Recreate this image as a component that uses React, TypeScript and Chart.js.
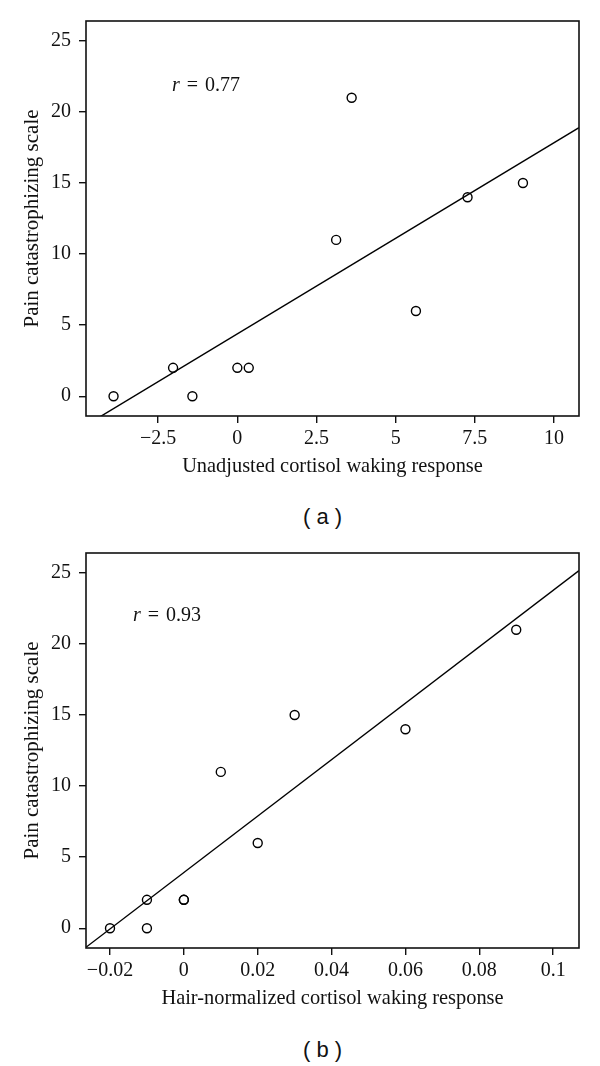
import React, { useEffect, useRef } from "react";
import { Chart, registerables } from "chart.js";
Chart.register(...registerables);

// ---------- shared data ----------
const Y_TICKS = [0, 5, 10, 15, 20, 25];
const Y_MIN = -1.39;
const Y_MAX = 26.4;
const Y_TITLE = "Pain catastrophizing scale";

// ---------- panel (a) ----------
const A_X = [-3.91, -2.03, -1.42, 0, 0.36, 3.12, 3.61, 5.64, 7.27, 9.02];
const A_Y = [0, 2, 0, 2, 2, 11, 21, 6, 14, 15];
const A_X_TICKS = [-2.5, 0, 2.5, 5, 7.5, 10];
const A_X_TICK_LABELS = ["\u22122.5", "0", "2.5", "5", "7.5", "10"];
const A_X_MIN = -4.78;
const A_X_MAX = 10.79;
const A_INTERCEPT = 4.39;
const A_SLOPE = 1.345;
const A_R = "0.77";
const A_X_TITLE = "Unadjusted cortisol waking response";
const A_LABEL = "( a )";

// ---------- panel (b) ----------
const B_X = [-0.02, -0.01, -0.01, 0, 0, 0.01, 0.02, 0.03, 0.06, 0.09];
const B_Y = [0, 2, 0, 2, 2, 11, 6, 15, 14, 21];
const B_X_TICKS = [-0.02, 0, 0.02, 0.04, 0.06, 0.08, 0.1];
const B_X_TICK_LABELS = ["\u22120.02", "0", "0.02", "0.04", "0.06", "0.08", "0.1"];
const B_X_MIN = -0.0265;
const B_X_MAX = 0.107;
const B_INTERCEPT = 3.92;
const B_SLOPE = 198.5;
const B_R = "0.93";
const B_X_TITLE = "Hair-normalized cortisol waking response";
const B_LABEL = "( b )";

const SERIF = "'Liberation Serif', 'Times New Roman', serif";
const SANS = "'Liberation Sans', Arial, sans-serif";

const framePlugin = {
  id: "frame",
  afterDraw(chart: any) {
    const { ctx, chartArea } = chart;
    ctx.save();
    ctx.strokeStyle = "#111";
    ctx.lineWidth = 1.6;
    ctx.strokeRect(
      chartArea.left,
      chartArea.top,
      chartArea.right - chartArea.left,
      chartArea.bottom - chartArea.top
    );
    ctx.restore();
  },
};

type PanelProps = {
  top: number;
  xs: number[];
  ys: number[];
  xTicks: number[];
  xTickLabels: string[];
  xMin: number;
  xMax: number;
  intercept: number;
  slope: number;
  xTitle: string;
};

const CANVAS_W = 600;
const CANVAS_H = 490;

function Panel(p: PanelProps) {
  const ref = useRef<HTMLCanvasElement>(null);
  useEffect(() => {
    const tickFont = { family: SERIF, size: 20 };
    const points = p.xs.map((x, i) => ({ x, y: p.ys[i] }));
    const fit = [p.xMin, p.xMax].map((x) => ({ x, y: p.intercept + p.slope * x }));
    const chart = new Chart(ref.current as HTMLCanvasElement, {
      type: "scatter",
      data: {
        datasets: [
          {
            data: points,
            pointRadius: 4.5,
            pointBorderWidth: 1.4,
            pointBorderColor: "#000",
            pointBackgroundColor: "rgba(0,0,0,0)",
            showLine: false,
          } as any,
          {
            data: fit,
            showLine: true,
            borderColor: "#000",
            borderWidth: 1.4,
            pointRadius: 0,
            clip: 0,
          } as any,
        ],
      },
      options: {
        responsive: false,
        animation: false,
        events: [],
        layout: { padding: { top: 21, right: 21, left: 0, bottom: 0 } },
        plugins: { legend: { display: false }, tooltip: { enabled: false } },
        scales: {
          x: {
            type: "linear",
            min: p.xMin,
            max: p.xMax,
            afterFit: (s: any) => {
              s.height = CANVAS_H - 416;
            },
            afterBuildTicks: (s: any) => {
              s.ticks = p.xTicks.map((v) => ({ value: v }));
            },
            ticks: {
              autoSkip: false,
              maxRotation: 0,
              color: "#111",
              font: tickFont,
              padding: 4,
              callback: (_v: any, i: number) => p.xTickLabels[i],
            },
            grid: {
              drawOnChartArea: false,
              drawTicks: true,
              tickLength: 7,
              color: "#111",
              lineWidth: 1.4,
            },
            border: { display: false },
            title: {
              display: true,
              text: p.xTitle,
              color: "#111",
              font: { family: SERIF, size: 20.4 },
              padding: { top: 0, bottom: 11 },
            },
          },
          y: {
            type: "linear",
            min: Y_MIN,
            max: Y_MAX,
            afterFit: (s: any) => {
              s.width = 86;
            },
            afterBuildTicks: (s: any) => {
              s.ticks = Y_TICKS.map((v) => ({ value: v }));
            },
            ticks: {
              autoSkip: false,
              color: "#111",
              font: tickFont,
              padding: 8,
              callback: (v: any) => String(v),
            },
            grid: {
              drawOnChartArea: false,
              drawTicks: true,
              tickLength: 7,
              color: "#111",
              lineWidth: 1.4,
            },
            border: { display: false },
            title: {
              display: true,
              text: Y_TITLE,
              color: "#111",
              font: { family: SERIF, size: 21 },
              padding: { top: 20, bottom: 0 },
            },
          },
        },
      } as any,
      plugins: [framePlugin],
    });
    return () => chart.destroy();
  }, []);
  return (
    <canvas
      ref={ref}
      width={CANVAS_W}
      height={CANVAS_H}
      style={{ position: "absolute", left: 0, top: p.top, width: CANVAS_W, height: CANVAS_H }}
    />
  );
}

function RText({ left, top, value }: { left: number; top: number; value: string }) {
  return (
    <div
      style={{
        position: "absolute",
        left,
        top,
        fontFamily: SERIF,
        fontSize: 20,
        lineHeight: "20px",
        color: "#111",
        wordSpacing: 2,
        whiteSpace: "pre",
      }}
    >
      <i>r</i> = {value}
    </div>
  );
}

function PanelLabel({ top, text }: { top: number; text: string }) {
  return (
    <div
      style={{
        position: "absolute",
        left: 303,
        top,
        fontFamily: SANS,
        fontSize: 22,
        lineHeight: "22px",
        color: "#111",
        whiteSpace: "pre",
      }}
    >
      {text}
    </div>
  );
}

export default function App() {
  return (
    <div
      style={{
        position: "absolute",
        left: 0,
        top: 0,
        width: 600,
        height: 1066,
        background: "#fff",
        overflow: "hidden",
      }}
    >
      <Panel
        top={0}
        xs={A_X}
        ys={A_Y}
        xTicks={A_X_TICKS}
        xTickLabels={A_X_TICK_LABELS}
        xMin={A_X_MIN}
        xMax={A_X_MAX}
        intercept={A_INTERCEPT}
        slope={A_SLOPE}
        xTitle={A_X_TITLE}
      />
      <RText left={172} top={74} value={A_R} />
      <PanelLabel top={506} text={A_LABEL} />
      <Panel
        top={532}
        xs={B_X}
        ys={B_Y}
        xTicks={B_X_TICKS}
        xTickLabels={B_X_TICK_LABELS}
        xMin={B_X_MIN}
        xMax={B_X_MAX}
        intercept={B_INTERCEPT}
        slope={B_SLOPE}
        xTitle={B_X_TITLE}
      />
      <RText left={133} top={604} value={B_R} />
      <PanelLabel top={1039} text={B_LABEL} />
    </div>
  );
}
